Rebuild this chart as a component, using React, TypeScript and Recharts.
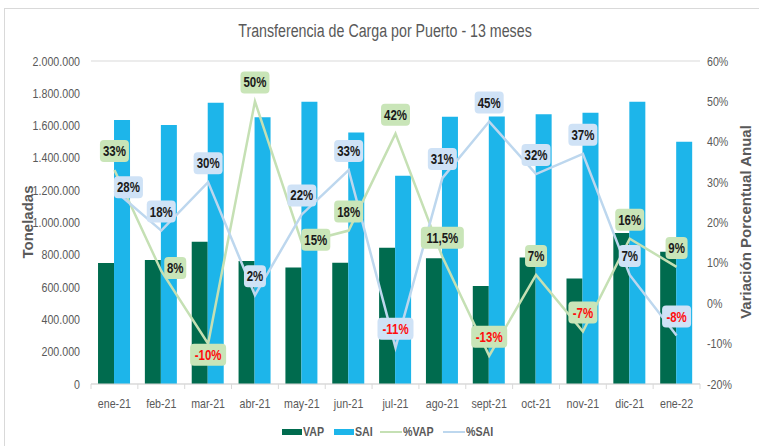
import React from 'react';
import { ComposedChart, Bar, Line, XAxis, YAxis, CartesianGrid, LabelList } from 'recharts';

const months = ['ene-21', 'feb-21', 'mar-21', 'abr-21', 'may-21', 'jun-21', 'jul-21', 'ago-21', 'sept-21', 'oct-21', 'nov-21', 'dic-21', 'ene-22'];
const vap = [750000, 768000, 881000, 762000, 722000, 751000, 844000, 778000, 607000, 784000, 654000, 935000, 819000];
const sai = [1635000, 1604000, 1742000, 1651000, 1748000, 1558000, 1290000, 1655000, 1657000, 1670000, 1680000, 1748000, 1500000];
const pctVap = [33, 8, -10, 50, 15, 18, 42, 11.5, -13, 7, -7, 16, 9];
const pctSai = [28, 18, 30, 2, 22, 33, -11, 31, 45, 32, 37, 7, -8];
const tonTicks = [0, 200000, 400000, 600000, 800000, 1000000, 1200000, 1400000, 1600000, 1800000, 2000000];
const pctTicks = [-20, -10, 0, 10, 20, 30, 40, 50, 60];

// where each bubble sits relative to its point
const vapLabelPos = ['top', 'right', 'bottom', 'top', 'right', 'top', 'top', 'top', 'top', 'top', 'top', 'top', 'top'];
const saiLabelPos = ['right', 'top', 'top', 'top', 'top', 'top', 'top', 'top', 'top', 'top', 'top', 'top', 'top'];

const data = months.map((m, i) => ({
  month: m,
  VAP: vap[i],
  SAI: sai[i],
  pVAP: pctVap[i],
  pSAI: pctSai[i],
}));

const FONT = "'Liberation Sans', Arial, sans-serif";
const GREY = '#595959';
const NARROW = 0.82; // fake Arial Narrow
const PLOT_LEFT = 91;
const PLOT_RIGHT = 700;
const STEP = (PLOT_RIGHT - PLOT_LEFT) / months.length;

const fmtTon = (v: number) => String(v).replace(/\B(?=(\d{3})+(?!\d))/g, '.');

const NText = ({ x, y, anchor = 'middle', children, ...rest }: any) => (
  <text
    transform={`translate(${x} ${y}) scale(${NARROW} 1)`}
    textAnchor={anchor}
    fontFamily={FONT}
    {...rest}
  >
    {children}
  </text>
);

const makeLabel = (bg: string, places: string[]) => (props: any) => {
  const { x, y, value, index } = props;
  const text = `${String(value).replace('.', ',')}%`;
  const w = text.length * 7 + 8;
  const h = 22;
  const p = places[index];
  const cx = x + (p === 'right' ? 14 : 0);
  const cy = y + (p === 'top' ? -19 : p === 'bottom' ? 11 : -3);
  return (
    <g>
      <rect x={cx - w / 2} y={cy - h / 2} width={w} height={h} rx={4} fill={bg} />
      <NText x={cx} y={cy + 5} fontSize={14} fontWeight="bold" fill={value < 0 ? '#ff0d0d' : '#1a1a1a'}>
        {text}
      </NText>
    </g>
  );
};

const MonthTick = ({ x, y, payload, index }: any) => (
  <g>
    <line x1={x - STEP / 2} x2={x - STEP / 2} y1={y - 14} y2={y - 9} stroke="#d9d9d9" />
    {index === months.length - 1 && (
      <line x1={x + STEP / 2} x2={x + STEP / 2} y1={y - 14} y2={y - 9} stroke="#d9d9d9" />
    )}
    <NText x={x} y={y + 10} fontSize={13} fill={GREY}>
      {payload.value}
    </NText>
  </g>
);

const TonTick = ({ x, y, payload }: any) => (
  <NText x={x} y={y + 4.5} anchor="end" fontSize={13} fill={GREY}>
    {fmtTon(payload.value)}
  </NText>
);

const PctTick = ({ x, y, payload }: any) => (
  <NText x={x} y={y + 4.5} anchor="start" fontSize={13} fill={GREY}>
    {`${payload.value}%`}
  </NText>
);

const legendItems = [
  { name: 'VAP', color: '#006b4e', kind: 'bar', w: 23 },
  { name: 'SAI', color: '#1db5ea', kind: 'bar', w: 17 },
  { name: '%VAP', color: '#c5e0b4', kind: 'line', w: 30 },
  { name: '%SAI', color: '#bdd7ee', kind: 'line', w: 25 },
];

const axisTitle: React.CSSProperties = {
  position: 'absolute',
  top: 222,
  transform: 'translate(-50%, -50%) rotate(-90deg)',
  whiteSpace: 'nowrap',
  fontWeight: 'bold',
  fontSize: 15,
  color: GREY,
};

export default function App() {
  return (
    <div style={{ position: 'absolute', left: 0, top: 0, width: 759, height: 446, overflow: 'hidden', background: '#fff', fontFamily: FONT }}>
      <div style={{ position: 'absolute', left: 4, top: 8, width: 780, height: 460, border: '1px solid #d9d9d9' }} />
      <div style={{ position: 'absolute', left: 385, top: 21, transform: 'translateX(-50%) scaleX(0.79)', whiteSpace: 'nowrap', fontSize: 18, color: GREY }}>
        Transferencia de Carga por Puerto - 13 meses
      </div>
      <ComposedChart
        width={759}
        height={446}
        data={data}
        margin={{ top: 61, right: 9, left: 31, bottom: 32 }}
        barCategoryGap="15%"
        barGap={0}
        style={{ position: 'absolute', left: 0, top: 0 }}
      >
        <CartesianGrid vertical={false} stroke="#d9d9d9" />
        <XAxis
          dataKey="month"
          height={30}
          axisLine={{ stroke: '#d9d9d9' }}
          tickLine={false}
          tick={<MonthTick />}
          tickMargin={8}
          interval={0}
        />
        <YAxis
          yAxisId="ton"
          width={60}
          domain={[0, 2000000]}
          ticks={tonTicks}
          axisLine={false}
          tickLine={false}
          tickSize={0}
          tickMargin={11}
          tick={<TonTick />}
        />
        <YAxis
          yAxisId="pct"
          orientation="right"
          width={50}
          domain={[-20, 60]}
          ticks={pctTicks}
          axisLine={false}
          tickLine={false}
          tickSize={0}
          tickMargin={7}
          tick={<PctTick />}
        />
        <Bar yAxisId="ton" dataKey="VAP" fill="#006b4e" isAnimationActive={false} />
        <Bar yAxisId="ton" dataKey="SAI" fill="#1db5ea" isAnimationActive={false} />
        <Line
          yAxisId="pct"
          dataKey="pVAP"
          stroke="#c5e0b4"
          strokeWidth={2.5}
          dot={false}
          type="linear"
          isAnimationActive={false}
        >
          <LabelList dataKey="pVAP" content={makeLabel('#c9e5b8', vapLabelPos)} />
        </Line>
        <Line
          yAxisId="pct"
          dataKey="pSAI"
          stroke="#bdd7ee"
          strokeWidth={2.5}
          dot={false}
          type="linear"
          isAnimationActive={false}
        >
          <LabelList dataKey="pSAI" content={makeLabel('#cfe2f6', saiLabelPos)} />
        </Line>
      </ComposedChart>
      <div style={{ ...axisTitle, left: 27 }}>Toneladas</div>
      <div style={{ ...axisTitle, left: 745 }}>Variación Porcentual Anual</div>
      <div style={{ position: 'absolute', left: 282, top: 424, display: 'flex', alignItems: 'center', fontSize: 13, fontWeight: 'bold', color: GREY }}>
        {legendItems.map((it) => (
          <div key={it.name} style={{ display: 'flex', alignItems: 'center', marginRight: it.kind === 'bar' ? 8 : 10 }}>
            <div
              style={{
                width: it.kind === 'bar' ? 20 : 22,
                height: it.kind === 'bar' ? 6 : 2,
                background: it.color,
                marginRight: 1,
              }}
            />
            <span style={{ display: 'inline-block', transform: `scaleX(${NARROW})`, transformOrigin: 'left center', width: it.w, whiteSpace: 'nowrap' }}>{it.name}</span>
          </div>
        ))}
      </div>
    </div>
  );
}
